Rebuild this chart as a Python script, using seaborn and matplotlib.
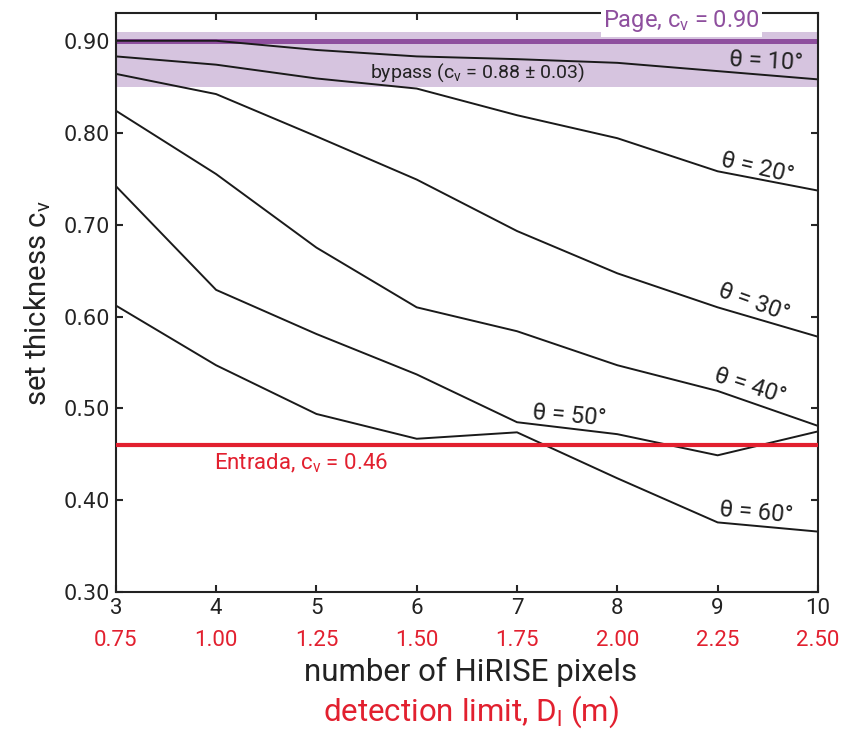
import numpy as np
import pandas as pd
import matplotlib
matplotlib.use("Agg")
import matplotlib.pyplot as plt
import seaborn as sns

pixels = [3, 4, 5, 6, 7, 8, 9, 10]
theta_labels = ["10", "20", "30", "40", "50", "60"]
cv_10 = [0.900, 0.900, 0.890, 0.883, 0.880, 0.876, 0.867, 0.858]
cv_20 = [0.883, 0.874, 0.859, 0.848, 0.819, 0.794, 0.758, 0.737]
cv_30 = [0.864, 0.842, 0.796, 0.749, 0.693, 0.647, 0.610, 0.578]
cv_40 = [0.824, 0.755, 0.675, 0.610, 0.584, 0.547, 0.519, 0.481]
cv_50 = [0.742, 0.629, 0.581, 0.537, 0.485, 0.472, 0.449, 0.475]
cv_60 = [0.612, 0.547, 0.494, 0.467, 0.474, 0.424, 0.376, 0.366]
page_cv = 0.90
entrada_cv = 0.46
bypass_mean = 0.88
bypass_err = 0.03
metres_per_pixel = 0.25
yticks = [0.30, 0.40, 0.50, 0.60, 0.70, 0.80, 0.90]

purple = "#8e4f9e"
band = "#d6c4df"
red = "#e2202f"

sns.set_style("ticks")
plt.rcParams["font.family"] = ["Roboto", "DejaVu Sans"]
plt.rcParams["mathtext.default"] = "regular"

all_cv = [cv_10, cv_20, cv_30, cv_40, cv_50, cv_60]
df = pd.DataFrame({
    "pixels": pixels * len(theta_labels),
    "cv": np.concatenate(all_cv),
    "theta": np.repeat(theta_labels, len(pixels)),
})

fig = plt.figure(figsize=(8.45, 7.33), dpi=100)
ax = fig.add_axes([0.137, 0.192, 0.831, 0.790])

# bypass band and reference lines
ax.axhspan(bypass_mean - bypass_err, bypass_mean + bypass_err, color=band, lw=0, zorder=0)
ax.axhline(page_cv, color=purple, lw=3.6, zorder=1)
ax.axhline(entrada_cv, color=red, lw=3.0, zorder=3)

sns.lineplot(data=df, x="pixels", y="cv", hue="theta", palette=["#1a1a1a"] * 6,
             legend=False, lw=1.4, ax=ax, zorder=2)

ax.set_xlim(3, 10)
ax.set_ylim(0.30, 0.93)
ax.set_xticks(pixels)
ax.set_xticklabels([str(p) for p in pixels], fontsize=16, color="#222222")
ax.set_yticks(yticks)
ax.set_yticklabels([f"{v:.2f}" for v in yticks], fontsize=15, family="DejaVu Sans", color="#222222")
ax.tick_params(direction="in", length=5, width=1.5, top=True, right=True, pad=4)
for s in ax.spines.values():
    s.set_linewidth(1.5)
    s.set_color("#222222")
ax.set_xlabel("")
ax.set_ylabel("set thickness c$_v$", fontsize=21, color="#222222", labelpad=8)

# second row of tick labels: detection limit in metres
secax = ax.secondary_xaxis("bottom", functions=(lambda p: p * metres_per_pixel,
                                                  lambda d: d / metres_per_pixel))
secax.set_xticks([p * metres_per_pixel for p in pixels])
secax.set_xticklabels([f"{p * metres_per_pixel:.2f}" for p in pixels], fontsize=16, color=red)
secax.tick_params(length=0, pad=27)
secax.spines["bottom"].set_visible(False)

fig.text(0.557, 0.083, "number of HiRISE pixels", fontsize=22.5, color="#222222",
         ha="center", va="center")
fig.text(0.557, 0.029, "detection limit, D$_l$ (m)", fontsize=22.5, color=red,
         ha="center", va="center")

# annotations
ax.text(8.64, 0.921, "Page, c$_v$ = 0.90", fontsize=17, color=purple, ha="center", va="center",
        bbox=dict(facecolor="white", edgecolor="none", pad=1.5), zorder=5, clip_on=False)
ax.text(6.6, 0.865, "bypass (c$_v$ = 0.88 \u00b1 0.03)", fontsize=14, color="#222222",
        ha="center", va="center")
ax.text(4.85, 0.440, "Entrada, c$_v$ = 0.46", fontsize=16, color=red, ha="center", va="center")

label_pos = [(9.48, 0.877, -3), (9.40, 0.762, -13), (9.36, 0.615, -20),
             (9.32, 0.524, -18), (7.52, 0.492, -5), (9.38, 0.387, -5)]
for t, (lx, ly, rot) in zip(theta_labels, label_pos):
    ax.text(lx, ly, f"\u03b8 = {t}\u00b0", fontsize=17, color="#222222", ha="center",
            va="center", rotation=rot, rotation_mode="anchor")

fig.savefig("out.png", dpi=100)
